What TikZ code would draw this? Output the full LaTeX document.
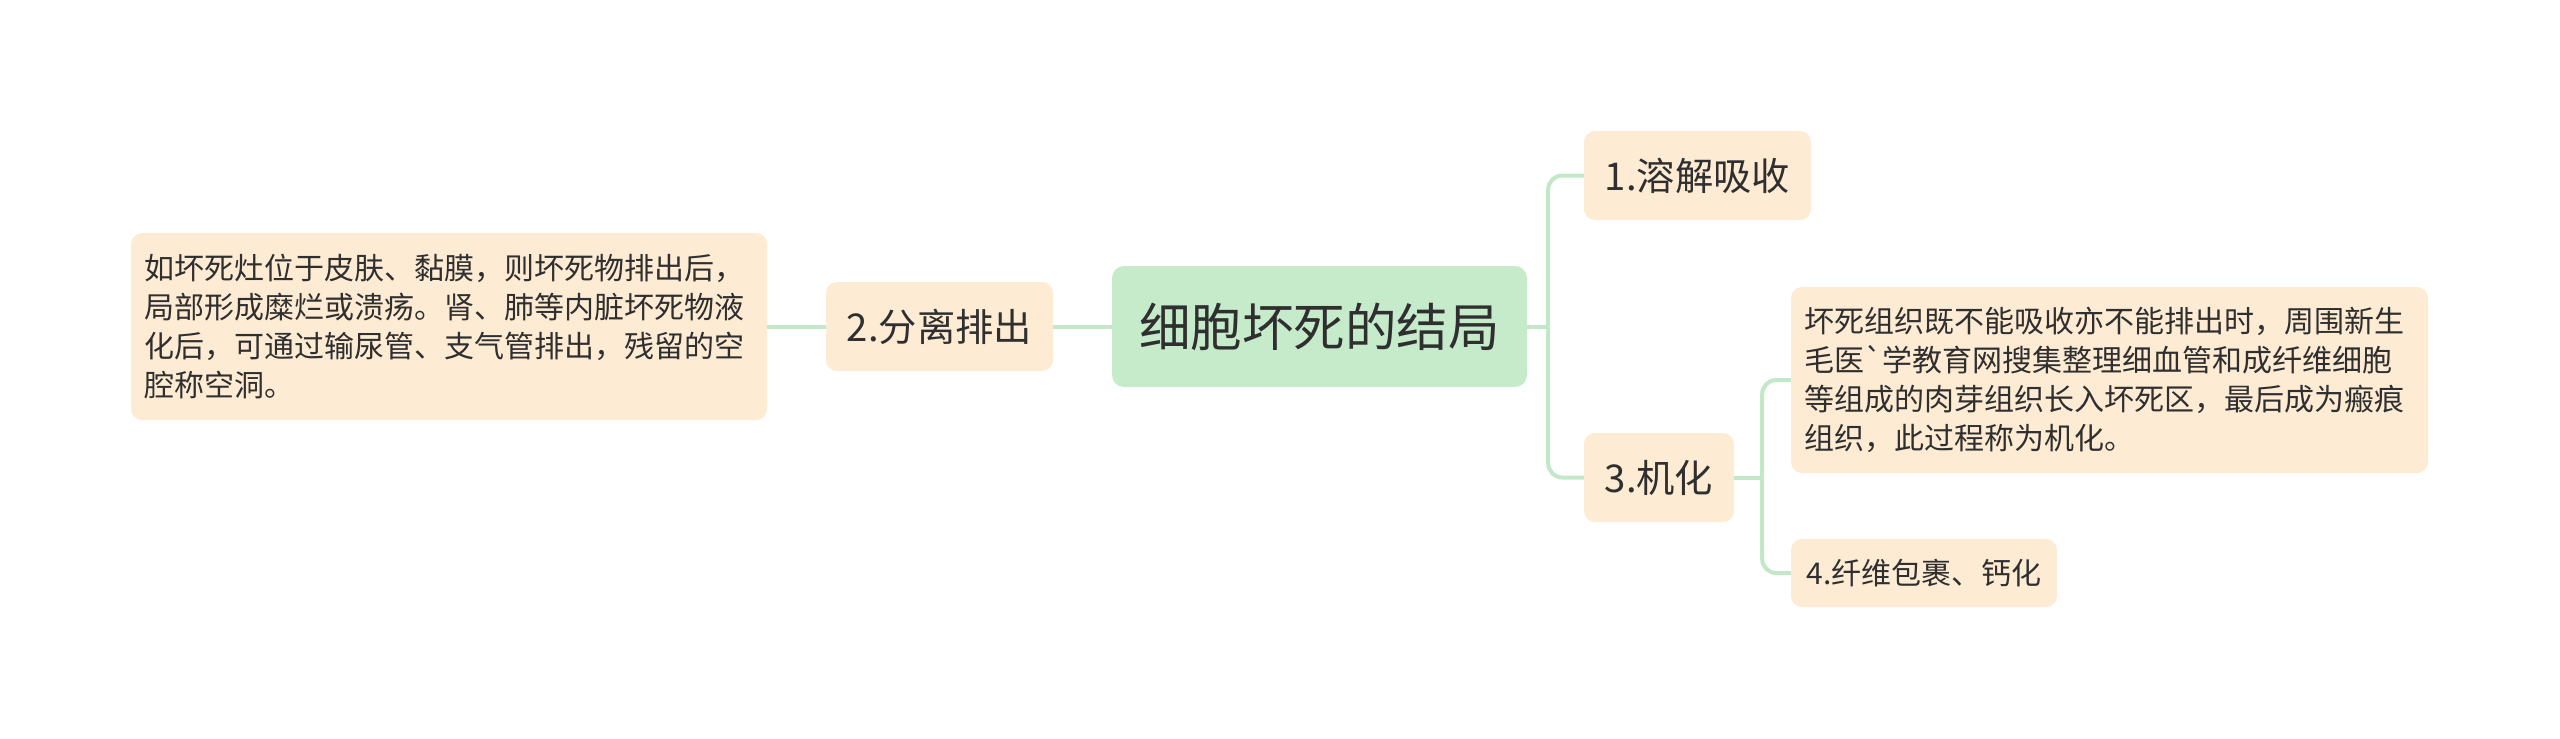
\documentclass[tikz,border=0pt]{standalone}
\usepackage{fontspec}
\newfontfamily\cjk{Noto Sans CJK SC}
\usetikzlibrary{calc}
\definecolor{rootfill}{HTML}{C6EBCB}
\definecolor{leaffill}{HTML}{FDEBD4}
\definecolor{linecol}{HTML}{C3E8C8}
\definecolor{txt}{HTML}{2F2F2F}
\tikzset{
  base/.style={inner sep=0pt, text=txt, font=\cjk},
  rootbox/.style={base, fill=rootfill, rounded corners=12pt, minimum width=415pt, minimum height=121pt, font=\cjk\fontsize{51.5}{60}\selectfont},
  midbox/.style={base, fill=leaffill, rounded corners=11pt, minimum height=89pt, font=\cjk\fontsize{38.3}{44}\selectfont},
  leafbox/.style={base, fill=leaffill, rounded corners=11pt, align=left, font=\cjk\fontsize{30}{39}\selectfont},
  conn/.style={draw=linecol, line width=4pt, rounded corners=14pt}
}
\begin{document}
\begin{tikzpicture}[x=1pt,y=-1pt]
\useasboundingbox (0,0) rectangle (2560,739);
\node[rootbox] (root) at (1319.5,326.5) {细胞坏死的结局};
\node[midbox, minimum width=227pt] (m2) at (939.5,326.5) {2.分离排出};
\node[midbox, minimum width=227pt] (m1) at (1697.5,175.5) {1.溶解吸收};
\node[midbox, minimum width=150pt] (m3) at (1659,477.5) {3.机化};
\node[leafbox, minimum width=636pt, minimum height=187pt, text width=610pt] (l2) at (449,326.5) {如坏死灶位于皮肤、黏膜，则坏死物排出后，\\局部形成糜烂或溃疡。肾、肺等内脏坏死物液\\化后，可通过输尿管、支气管排出，残留的空\\腔称空洞。};
\node[leafbox, minimum width=637pt, minimum height=186pt, text width=610pt] (l3) at (2109.5,380) {坏死组织既不能吸收亦不能排出时，周围新生\\毛医`学教育网搜集整理细血管和成纤维细胞\\等组成的肉芽组织长入坏死区，最后成为瘢痕\\组织，此过程称为机化。};
\node[leafbox, minimum width=266pt, minimum height=68pt, align=center] (l4) at (1924,573) {4.纤维包裹、钙化};
\coordinate (j1) at ($(root.east)+(21,0)$);
\coordinate (j3) at ($(m3.east)+(28,0)$);
\draw[conn] (root.east) -- (j1);
\draw[conn] (j1) |- (m1.west);
\draw[conn] (j1) |- (m3.west);
\draw[conn] (root.west) -- (m2.east);
\draw[conn] (m2.west) -- (l2.east);
\draw[conn] (m3.east) -- (j3);
\draw[conn] (j3) |- (l3.west);
\draw[conn] (j3) |- (l4.west);
\end{tikzpicture}
\end{document}
